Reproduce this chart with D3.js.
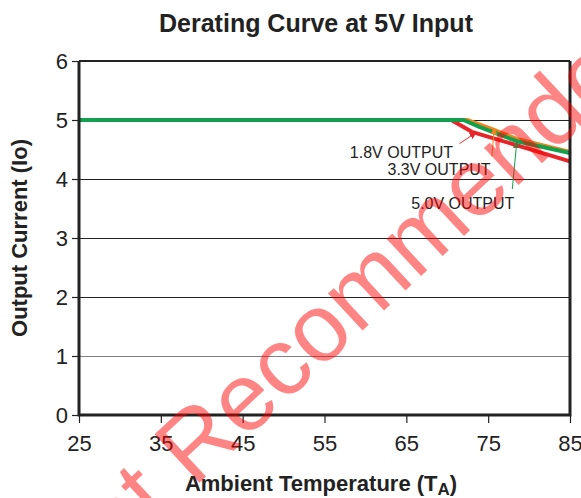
<html>
   <head>
      <title>Derating Curve</title>
      <script src="https://d3js.org/d3.v7.min.js" charset="utf-8"></script>
      <style>
         body {
            margin: 0;
            background: white;
            font-family: "Liberation Sans", Arial, sans-serif;
         }
         .axis text {
            font-family: "Liberation Sans", Arial, sans-serif;
            font-size: 22px;
            fill: #222;
         }
         .axis path, .axis line {
            stroke: #222;
         }
      </style>
   </head>
   <body>
      <script>
         var width = 581;
         var height = 498;

         // temperatures (deg C) and output current (A)
         var temps18 = [25, 70.5, 73, 85];
         var amps18 = [5, 5, 4.8, 4.3];
         var temps33 = [25, 72.5, 75, 78.5, 85];
         var amps33 = [5, 5, 4.87, 4.68, 4.46];
         var temps50 = [25, 72, 74, 78.5, 85];
         var amps50 = [5, 5, 4.88, 4.64, 4.44];

         var xTicks = [25, 35, 45, 55, 65, 75, 85];
         var yTicks = [0, 1, 2, 3, 4, 5, 6];

         // annotation labels: text start and arrow (from -> to), in data units
         var labels = ["1.8V OUTPUT", "3.3V OUTPUT", "5.0V OUTPUT"];
         var labelPos = [[58.1, 4.35], [62.7, 4.07], [65.6, 3.5]];
         var arrowFrom = [[71.5, 4.6], [75.45, 4.38], [77.95, 3.83]];
         var arrowTo = [[73.5, 4.785], [75.75, 4.86], [78.5, 4.63]];
         var arrowColor = ["#e8262a", "#f0861e", "#12a04c"];
         var headColor = ["#e8262a", "#f0861e", "#6e6634"];

         var series = [
            {name: "1.8V", t: temps18, a: amps18, color: "#e8262a"},
            {name: "3.3V", t: temps33, a: amps33, color: "#f0861e"},
            {name: "5.0V", t: temps50, a: amps50, color: "#12a04c"}
         ];

         var margin = {left: 79, right: 11, top: 61, bottom: 83};

         var x = d3.scaleLinear().domain([25, 85]).range([margin.left, width - margin.right]);
         var y = d3.scaleLinear().domain([0, 6]).range([height - margin.bottom, margin.top]);

         var svg = d3.select("body")
            .append("svg")
            .attr("width", width)
            .attr("height", height);

         var defs = svg.append("defs");
         headColor.forEach(function(c, i){
            defs.append("marker")
               .attr("id", "head" + i)
               .attr("viewBox", "0 0 10 10")
               .attr("refX", 9)
               .attr("refY", 5)
               .attr("markerWidth", 7)
               .attr("markerHeight", 7)
               .attr("markerUnits", "userSpaceOnUse")
               .attr("orient", "auto")
               .append("path")
               .attr("d", "M0,0 L10,5 L0,10 z")
               .attr("fill", c);
         });

         // gridlines
         svg.append("g")
            .selectAll("line")
            .data(yTicks.filter(function(d){ return d > 0 && d < 6; }))
            .enter()
            .append("line")
            .attr("x1", x(25))
            .attr("x2", x(85))
            .attr("y1", function(d){ return y(d) + 0.5; })
            .attr("y2", function(d){ return y(d) + 0.5; })
            .attr("stroke", function(d){ return d == 1 ? "#808080" : "#222"; })
            .attr("stroke-width", 1);

         // curves
         var line = d3.line()
            .x(function(d){ return x(d[0]); })
            .y(function(d){ return y(d[1]); });

         svg.append("g")
            .selectAll("path")
            .data(series)
            .enter()
            .append("path")
            .attr("fill", "none")
            .attr("stroke", function(d){ return d.color; })
            .attr("stroke-width", 4)
            .attr("stroke-linejoin", "round")
            .attr("d", function(d){ return line(d.t.map(function(t, i){ return [t, d.a[i]]; })); });

         // frame: thin top, heavy left/bottom/right
         var frame = svg.append("g").attr("stroke", "#222");
         frame.append("line")
            .attr("x1", x(25)).attr("x2", x(85))
            .attr("y1", y(6)).attr("y2", y(6))
            .attr("stroke-width", 2);
         frame.append("path")
            .attr("fill", "none")
            .attr("stroke-width", 3)
            .attr("d", "M" + x(25) + "," + y(6) + "V" + y(0) + "H" + x(85) + "V" + y(6));

         // axes
         svg.append("g")
            .attr("class", "axis")
            .attr("transform", "translate(0," + y(0) + ")")
            .call(d3.axisBottom(x).tickValues(xTicks).tickSize(8).tickPadding(12).tickSizeOuter(0))
            .call(function(g){ g.select(".domain").remove(); })
            .selectAll("line").attr("stroke-width", 1.2);

         svg.append("g")
            .attr("class", "axis")
            .attr("transform", "translate(" + x(25) + ",0)")
            .call(d3.axisLeft(y).tickValues(yTicks).tickFormat(d3.format("d")).tickSize(7).tickPadding(4).tickSizeOuter(0))
            .call(function(g){ g.select(".domain").remove(); })
            .selectAll("line").attr("stroke-width", 1.2);

         // annotations
         var ann = svg.append("g");
         labels.forEach(function(l, i){
            ann.append("text")
               .attr("x", x(labelPos[i][0]))
               .attr("y", y(labelPos[i][1]))
               .attr("font-size", 16)
               .attr("fill", "#222")
               .text(l);
            ann.append("line")
               .attr("x1", x(arrowFrom[i][0]))
               .attr("y1", y(arrowFrom[i][1]))
               .attr("x2", x(arrowTo[i][0]))
               .attr("y2", y(arrowTo[i][1]))
               .attr("stroke", arrowColor[i])
               .attr("stroke-width", 1)
               .attr("marker-end", "url(#head" + i + ")");
         });

         // titles
         svg.append("text")
            .attr("x", 316)
            .attr("y", 32)
            .attr("text-anchor", "middle")
            .attr("font-size", 25)
            .attr("font-weight", "bold")
            .attr("fill", "#222")
            .text("Derating Curve at 5V Input");

         var xt = svg.append("text")
            .attr("x", 321)
            .attr("y", 491)
            .attr("text-anchor", "middle")
            .attr("font-size", 22)
            .attr("font-weight", "bold")
            .attr("fill", "#222");
         xt.append("tspan").text("Ambient Temperature (T");
         xt.append("tspan").attr("font-size", 17).attr("dy", 4).text("A");
         xt.append("tspan").attr("dy", -4).text(")");

         svg.append("text")
            .attr("transform", "translate(27,238) rotate(-90)")
            .attr("text-anchor", "middle")
            .attr("font-size", 22)
            .attr("font-weight", "bold")
            .attr("fill", "#222")
            .text("Output Current (Io)");

         // watermark
         svg.append("text")
            .attr("transform", "translate(65,608) rotate(-43)")
            .attr("font-size", 96)
            .attr("fill", "red")
            .attr("fill-opacity", 0.48)
            .text("Not Recommended for New Designs");
      </script>
   </body>
</html>
